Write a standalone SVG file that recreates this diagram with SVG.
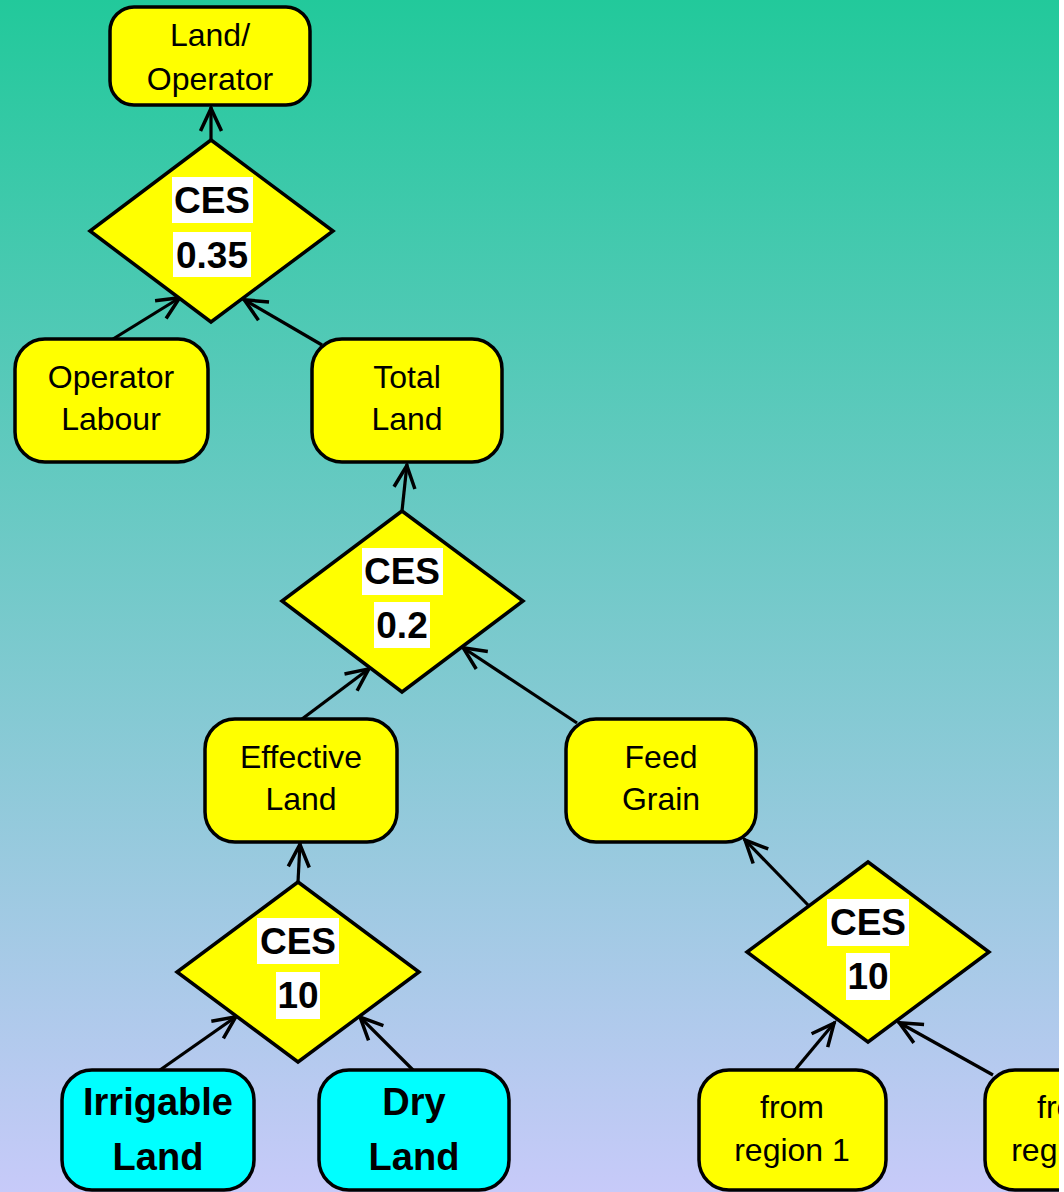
<svg xmlns="http://www.w3.org/2000/svg" width="1064" height="1192" viewBox="0 0 1064 1192">
  <defs>
    <linearGradient id="bg" x1="0" y1="0" x2="0" y2="1">
      <stop offset="0" stop-color="#22C99B"/>
      <stop offset="1" stop-color="#C7CAF9"/>
    </linearGradient>
    <marker id="arr" markerUnits="userSpaceOnUse" viewBox="-30 -15 34 30" refX="0" refY="0" markerWidth="34" markerHeight="30" orient="auto" overflow="visible">
      <path d="M-24,-10.5 L-1.5,0 L-24,10.5" fill="none" stroke="#000" stroke-width="3.5"/>
    </marker>
    <style>
      .box { fill: #FFFF00; stroke: #000; stroke-width: 3.5; }
      .cyan { fill: #00FFFF; stroke: #000; stroke-width: 3.5; }
      .dia { fill: #FFFF00; stroke: #000; stroke-width: 3.5; stroke-linejoin: miter; }
      .lab { fill: #FFFFFF; }
      .t { font-family: "Liberation Sans", Arial, sans-serif; font-size: 32px; fill: #000; text-anchor: middle; }
      .tb { font-family: "Liberation Sans", Arial, sans-serif; font-size: 38px; font-weight: bold; fill: #000; text-anchor: middle; }
      .ces { font-family: "Liberation Sans", Arial, sans-serif; font-size: 37px; font-weight: bold; fill: #000; text-anchor: middle; }
      .con line { stroke: #000; stroke-width: 3.2; fill: none; marker-end: url(#arr); }
    </style>
  </defs>

  <!-- background -->
  <rect x="0" y="0" width="1064" height="1192" fill="#FFFFFF"/>
  <rect x="0" y="0" width="1059" height="1192" fill="url(#bg)"/>

  <!-- connectors -->
  <g id="connectors" class="con">
    <line x1="211" y1="140" x2="211" y2="107"/>
    <line x1="113" y1="339" x2="181" y2="297"/>
    <line x1="322" y1="345" x2="243" y2="299"/>
    <line x1="402" y1="511" x2="407" y2="464"/>
    <line x1="302" y1="719" x2="370" y2="668"/>
    <line x1="577" y1="723" x2="462" y2="647"/>
    <line x1="298" y1="882" x2="300" y2="843"/>
    <line x1="160" y1="1070" x2="237" y2="1016"/>
    <line x1="413" y1="1070" x2="359" y2="1016"/>
    <line x1="808" y1="905" x2="744" y2="839"/>
    <line x1="795" y1="1070" x2="835" y2="1022"/>
    <line x1="993" y1="1075" x2="898" y2="1022"/>
  </g>

  <!-- nodes -->
  <g id="land-operator">
    <rect class="box" x="110" y="7" width="200" height="98" rx="24"/>
    <text class="t" x="210" y="46">Land/</text>
    <text class="t" x="210" y="90">Operator</text>
  </g>

  <g id="ces-035">
    <polygon class="dia" points="211,140 333,231 211,322 90,231"/>
    <rect class="lab" x="172" y="177" width="81" height="46"/>
    <rect class="lab" x="173" y="232" width="78" height="45"/>
    <text class="ces" x="212" y="213">CES</text>
    <text class="ces" x="212" y="268">0.35</text>
  </g>

  <g id="operator-labour">
    <rect class="box" x="15" y="339" width="193" height="123" rx="30"/>
    <text class="t" x="111" y="388">Operator</text>
    <text class="t" x="111" y="430">Labour</text>
  </g>

  <g id="total-land">
    <rect class="box" x="312" y="339" width="190" height="123" rx="30"/>
    <text class="t" x="407" y="388">Total</text>
    <text class="t" x="407" y="430">Land</text>
  </g>

  <g id="ces-02">
    <polygon class="dia" points="402,511 523,601 402,692 282,601"/>
    <rect class="lab" x="362" y="548" width="81" height="47"/>
    <rect class="lab" x="374" y="602" width="56" height="46"/>
    <text class="ces" x="402" y="584">CES</text>
    <text class="ces" x="402" y="638">0.2</text>
  </g>

  <g id="effective-land">
    <rect class="box" x="205" y="719" width="192" height="123" rx="30"/>
    <text class="t" x="301" y="768">Effective</text>
    <text class="t" x="301" y="810">Land</text>
  </g>

  <g id="feed-grain">
    <rect class="box" x="566" y="719" width="190" height="123" rx="30"/>
    <text class="t" x="661" y="768">Feed</text>
    <text class="t" x="661" y="810">Grain</text>
  </g>

  <g id="ces-10-land">
    <polygon class="dia" points="298,882 419,972 298,1062 177,972"/>
    <rect class="lab" x="257" y="918" width="82" height="46"/>
    <rect class="lab" x="276" y="972" width="44" height="47"/>
    <text class="ces" x="298" y="954">CES</text>
    <text class="ces" x="298" y="1008">10</text>
  </g>

  <g id="ces-10-grain">
    <polygon class="dia" points="868,862 989,952 868,1042 747,952"/>
    <rect class="lab" x="827" y="899" width="82" height="47"/>
    <rect class="lab" x="846" y="953" width="44" height="47"/>
    <text class="ces" x="868" y="935">CES</text>
    <text class="ces" x="868" y="989">10</text>
  </g>

  <g id="irrigable-land">
    <rect class="cyan" x="62" y="1070" width="192" height="120" rx="30"/>
    <text class="tb" x="158" y="1115">Irrigable</text>
    <text class="tb" x="158" y="1170">Land</text>
  </g>

  <g id="dry-land">
    <rect class="cyan" x="319" y="1070" width="190" height="120" rx="30"/>
    <text class="tb" x="414" y="1115">Dry</text>
    <text class="tb" x="414" y="1170">Land</text>
  </g>

  <g id="region-1">
    <rect class="box" x="699" y="1070" width="187" height="120" rx="30"/>
    <text class="t" x="792" y="1118">from</text>
    <text class="t" x="792" y="1161">region 1</text>
  </g>

  <g id="region-2">
    <rect class="box" x="985" y="1070" width="170" height="120" rx="30"/>
    <text class="t" x="1069" y="1118">from</text>
    <text class="t" x="1069" y="1161">region 2</text>
  </g>

  <!-- right margin -->
  <rect x="1059" y="0" width="5" height="1192" fill="#FFFFFF"/>
</svg>
